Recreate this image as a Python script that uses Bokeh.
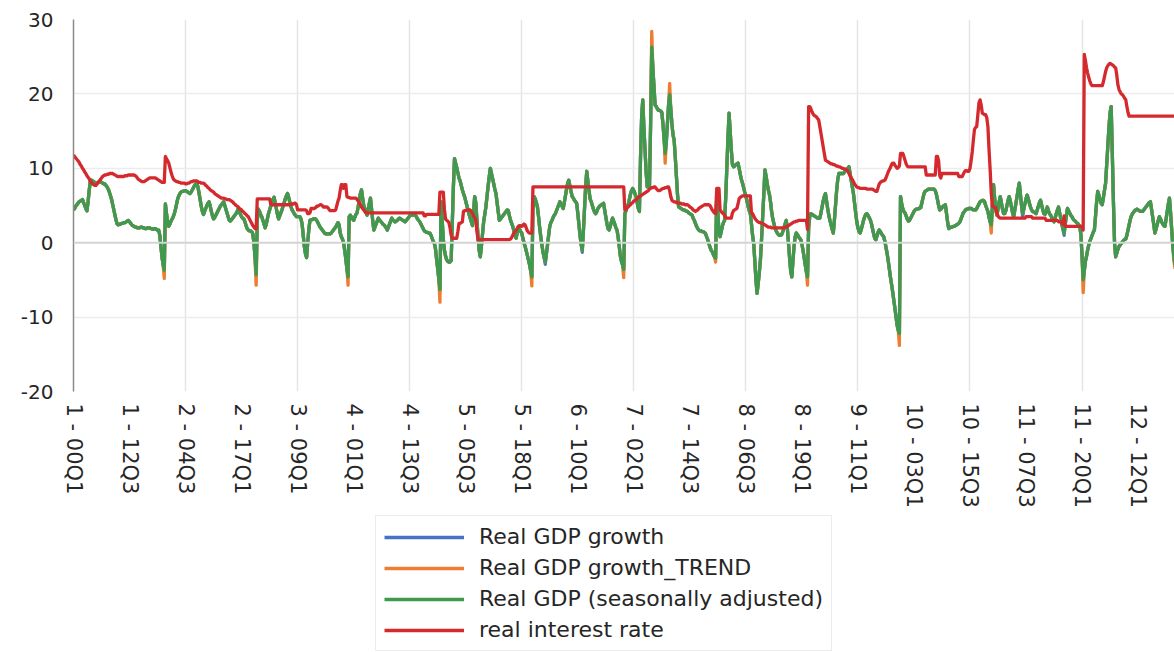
from bokeh.plotting import figure
from bokeh.layouts import column
from bokeh.models import (ColumnDataSource, FixedTicker, Range1d, Span, Legend,
                          LegendItem)
from bokeh.embed import file_html
from bokeh.resources import INLINE

# ---------------- categories (country - quarter) ----------------
countries = ["1", "2", "3", "4", "5", "6", "7", "8", "9", "10", "11", "12"]
years = ["00", "01", "02", "03", "04", "05", "06", "07", "08", "09", "10",
         "11", "12", "13", "14", "15", "16", "17", "18", "19", "20"]
quarters = [f"{y}Q{q}" for y in years for q in (1, 2, 3, 4)][:82]
categories = [f"{c} - {qq}" for c in countries for qq in quarters]

tick_labels = ["1 - 00Q1", "1 - 12Q3", "2 - 04Q3", "2 - 17Q1", "3 - 09Q1",
               "4 - 01Q1", "4 - 13Q3", "5 - 05Q3", "5 - 18Q1", "6 - 10Q1",
               "7 - 02Q1", "7 - 14Q3", "8 - 06Q3", "8 - 19Q1", "9 - 11Q1",
               "10 - 03Q1", "10 - 15Q3", "11 - 07Q3", "11 - 20Q1", "12 - 12Q1"]
y_ticks = [-20, -10, 0, 10, 20, 30]
y_tick_labels = ["-20", "-10", "0", "10", "20", "30"]

# ---------------- Real GDP (seasonally adjusted), per country ----------------
sa_1 = [4.4, 4.6, 4.9, 5.1, 5.3, 5.5, 5.6, 5.7, 5.8, 5.4,
        5.0, 4.6, 4.3, 5.5, 7.0, 8.3, 8.4, 8.3, 8.2, 8.1,
        8.0, 8.0, 8.1, 8.2, 8.2, 8.1, 8.0, 7.9, 7.9, 7.7,
        7.5, 7.2, 6.8, 6.3, 5.8, 5.1, 4.4, 3.7, 3.0, 2.5,
        2.4, 2.5, 2.5, 2.6, 2.6, 2.7, 2.7, 2.8, 2.9, 3.0,
        2.8, 2.6, 2.4, 2.3, 2.2, 2.1, 2.1, 2.0, 2.0, 2.0,
        2.1, 2.1, 2.0, 2.0, 1.9, 1.9, 2.0, 2.0, 2.0, 1.9,
        1.9, 1.8, 1.9, 1.9, 1.8, 1.7, 1.7, 1.0, -0.5, -2.0,
        -3.0, -3.7]
sa_2 = [5.2, 3.9, 2.8, 2.2, 2.5, 2.9, 3.2, 3.5, 3.9, 4.5,
        5.2, 5.9, 6.3, 6.6, 6.8, 6.9, 6.9, 7.0, 7.0, 6.9,
        6.8, 6.7, 6.6, 6.8, 7.1, 7.4, 7.7, 7.9, 8.1, 7.5,
        6.7, 5.8, 4.9, 4.2, 3.8, 4.2, 4.6, 5.0, 5.3, 5.5,
        4.9, 4.2, 3.6, 3.2, 3.4, 3.7, 4.0, 4.3, 4.6, 4.9,
        5.1, 5.3, 5.5, 5.0, 4.5, 4.0, 3.5, 3.0, 2.9, 3.1,
        3.3, 3.5, 3.7, 3.9, 4.2, 4.6, 4.2, 3.8, 3.5, 3.3,
        3.2, 2.8, 2.3, 1.9, 1.7, 1.6, 1.6, 1.5, 1.2, 0.0,
        -2.0, -4.3]
sa_3 = [3.0, 4.5, 4.2, 3.8, 3.5, 3.0, 2.5, 2.0, 2.5, 3.2,
        3.9, 4.4, 4.9, 5.4, 5.8, 6.1, 5.4, 4.6, 3.8, 3.2,
        3.6, 4.0, 4.4, 4.9, 5.4, 5.9, 6.3, 6.6, 6.1, 5.5,
        4.9, 4.4, 4.2, 3.9, 3.7, 3.5, 3.5, 3.5, 3.5, 3.2,
        2.5, 1.0, -0.5, -1.5, -2.0, 0.0, 1.8, 3.0, 3.1, 3.1,
        3.2, 3.2, 3.2, 3.0, 2.7, 2.4, 2.1, 1.9, 1.7, 1.5,
        1.3, 1.2, 1.2, 1.2, 1.2, 1.2, 1.3, 1.5, 1.7, 1.9,
        2.1, 2.4, 2.7, 2.4, 1.3, 0.8, 0.5, 0.0, -1.0, -2.2,
        -3.5, -4.6]
sa_4 = [3.5, 3.7, 3.5, 3.2, 3.0, 3.4, 3.8, 4.0, 4.8, 5.8,
        6.6, 7.1, 6.0, 5.0, 4.6, 4.1, 3.7, 4.5, 5.3, 6.0,
        4.5, 3.0, 1.7, 2.1, 2.5, 2.9, 3.3, 3.1, 2.9, 2.7,
        2.5, 2.4, 2.2, 2.0, 1.7, 2.1, 2.5, 2.9, 3.3, 3.1,
        2.9, 2.8, 2.9, 3.0, 3.2, 3.3, 3.2, 3.1, 3.0, 2.9,
        2.8, 3.0, 3.2, 3.4, 3.6, 3.7, 3.7, 3.7, 3.7, 3.7,
        3.5, 3.2, 3.0, 2.8, 2.5, 2.2, 1.9, 1.6, 1.5, 1.4,
        1.4, 1.3, 1.3, 1.0, 0.6, 0.2, -0.1, -0.8, -2.2, -3.5,
        -4.9, -6.3]
sa_5 = [5.5, 3.0, 0.5, -1.0, -1.8, -2.3, -2.5, -2.6, -2.6, -2.4,
        2.5, 7.5, 11.3, 10.7, 10.1, 9.4, 8.7, 8.3, 7.7, 7.1,
        6.6, 6.2, 5.6, 5.0, 4.4, 3.8, 3.3, 2.8, 2.3, 4.2,
        6.2, 5.4, 3.0, 0.8, -1.0, -1.9, -0.5, 1.2, 2.8, 3.8,
        4.8, 6.2, 7.6, 8.9, 10.0, 9.3, 8.6, 7.9, 7.2, 6.6,
        5.4, 4.2, 3.0, 3.2, 3.4, 3.6, 3.8, 4.0, 4.2, 4.4,
        4.3, 3.6, 3.0, 2.6, 2.2, 1.6, 1.0, 0.6, 1.4, 2.2,
        1.8, 1.5, 1.3, 0.6, 0.0, -0.5, -1.1, -1.7, -2.3, -3.0,
        -3.8, -4.6]
sa_6 = [4.5, 6.2, 5.9, 5.4, 4.8, 3.5, 2.0, 0.8, -0.3, -1.3,
        -2.0, -2.6, -1.5, -0.3, 1.0, 2.2, 2.7, 3.0, 3.4, 3.7,
        3.9, 4.3, 4.7, 5.1, 5.5, 5.2, 4.9, 4.6, 5.4, 6.3,
        7.2, 8.0, 8.4, 7.6, 6.9, 6.2, 6.0, 5.7, 5.5, 5.3,
        4.0, 2.5, 1.0, -0.2, -1.0, 1.5, 4.5, 7.5, 9.6, 8.3,
        7.0, 5.9, 5.5, 5.0, 4.5, 4.1, 3.9, 4.2, 4.6, 4.8,
        5.0, 5.1, 5.2, 5.3, 4.4, 3.5, 2.6, 1.9, 1.7, 2.2,
        2.8, 3.3, 2.9, 2.5, 2.0, 1.7, 0.8, -0.5, -1.8, -2.5,
        -3.0, -3.6]
sa_7 = [3.9, 4.3, 4.8, 5.1, 5.8, 6.5, 7.0, 7.3, 7.0, 6.6,
        6.2, 5.4, 4.6, 4.2, 11.5, 17.0, 19.2, 15.5, 12.5, 9.5,
        7.5, 7.5, 7.6, 16.0, 26.3, 23.5, 21.0, 18.5, 18.3, 18.0,
        17.8, 17.8, 17.7, 17.5, 16.0, 14.0, 12.0, 13.5, 16.0, 18.5,
        19.9, 18.0, 16.0, 14.5, 13.8, 11.5, 9.0, 6.5, 4.8, 4.7,
        4.6, 4.5, 4.4, 4.4, 4.3, 4.2, 4.2, 4.0, 3.9, 3.8,
        3.7, 3.3, 3.0, 2.6, 2.2, 1.9, 1.7, 1.6, 1.6, 1.5,
        1.5, 1.4, 1.2, 0.8, 0.4, -0.1, -0.6, -1.0, -1.2, -1.6,
        -1.9, -2.1]
sa_8 = [6.5, 4.0, 1.5, 0.8, 1.5, 2.2, 2.7, 3.0, 6.0, 10.0,
        14.0, 17.4, 15.0, 12.5, 10.5, 10.2, 10.3, 10.5, 10.6, 10.7,
        10.0, 9.2, 8.5, 8.0, 7.4, 6.8, 6.3, 5.6, 4.9, 4.3,
        3.9, 2.5, 1.0, -0.1, -2.5, -5.0, -6.8, -5.5, -4.0, -2.3,
        0.5, 3.5, 6.5, 9.8, 9.0, 8.0, 7.1, 6.5, 5.5, 4.2,
        3.2, 2.6, 2.0, 1.6, 1.3, 1.1, 1.0, 1.0, 1.1, 1.5,
        2.0, 2.5, 3.0, 2.0, 0.0, -2.0, -3.8, -4.6, -2.5, -0.5,
        0.8, 1.3, 1.1, 0.8, 0.6, 0.4, -0.2, -1.0, -2.0, -3.0,
        -3.9, -4.6]
sa_9 = [2.0, 3.5, 3.9, 3.8, 3.7, 3.6, 3.5, 3.4, 3.3, 3.3,
        3.3, 4.0, 4.8, 5.6, 6.2, 6.6, 5.6, 4.6, 3.7, 3.0,
        2.4, 1.8, 1.3, 3.0, 5.0, 7.0, 8.5, 9.3, 9.3, 9.3,
        9.3, 9.3, 9.5, 9.7, 9.9, 10.0, 10.2, 9.3, 8.4, 7.5,
        6.6, 5.3, 4.0, 2.8, 2.0, 1.5, 1.3, 1.8, 2.4, 3.0,
        3.5, 3.8, 3.9, 3.7, 3.4, 3.1, 2.6, 1.9, 1.2, 0.6,
        0.4, 0.9, 1.4, 1.7, 1.5, 1.2, 1.0, 0.8, 0.2, -0.6,
        -1.4, -2.4, -3.5, -4.6, -5.6, -6.6, -7.7, -8.8, -10.0, -11.1,
        -11.8, -12.2]
sa_10 = [6.2, 5.3, 4.6, 4.2, 4.0, 3.6, 3.2, 2.9, 3.0, 3.3,
         3.6, 3.9, 4.2, 4.4, 4.5, 4.5, 4.6, 4.6, 4.7, 5.3,
         6.0, 6.6, 6.9, 7.0, 7.1, 7.2, 7.2, 7.2, 7.2, 7.2,
         7.2, 7.0, 6.5, 5.8, 5.0, 4.4, 4.5, 4.7, 4.9, 5.0,
         5.1, 4.0, 2.8, 1.9, 2.0, 2.1, 2.1, 2.2, 2.2, 2.3,
         2.4, 2.5, 2.6, 2.8, 3.2, 3.6, 4.0, 4.2, 4.4, 4.5,
         4.5, 4.6, 4.6, 4.6, 4.5, 4.4, 4.4, 4.4, 4.6, 4.9,
         5.2, 5.5, 5.6, 5.7, 5.7, 5.5, 5.0, 4.6, 4.2, 3.4,
         2.8, 2.4]
sa_11 = [5.0, 7.8, 6.0, 4.5, 3.7, 4.5, 5.5, 6.2, 5.4, 4.5,
         3.9, 3.9, 4.3, 5.0, 5.7, 6.2, 5.6, 4.8, 4.0, 3.5,
         4.4, 5.3, 6.2, 7.2, 8.0, 6.5, 5.0, 3.9, 4.5, 5.2,
         5.9, 6.4, 5.9, 5.3, 4.8, 4.4, 4.2, 4.1, 4.0, 3.9,
         4.4, 4.9, 5.4, 5.7, 5.0, 4.4, 3.9, 3.8, 4.2, 4.8,
         4.3, 3.9, 3.7, 3.4, 3.1, 2.8, 3.3, 3.9, 4.4, 4.8,
         4.0, 3.3, 2.5, 1.8, 1.3, 2.5, 3.6, 4.6, 4.3, 4.0,
         3.7, 3.5, 3.2, 3.0, 2.9, 2.7, 2.6, 2.4, 2.2, 1.0,
         -1.8, -5.0]
sa_12 = [-3.8, -2.5, -1.8, -1.0, -0.3, 0.2, 0.6, 1.0, 1.4, 1.7,
         3.5, 5.5, 6.9, 6.4, 5.8, 5.3, 5.1, 6.0, 7.0, 8.0,
         10.5, 13.0, 15.5, 17.5, 18.3, 12.0, 5.5, 0.0, -1.9, -1.4,
         -0.9, -0.5, -0.3, -0.1, 0.1, 0.3, 0.4, 0.5, 1.0, 1.7,
         2.4, 3.1, 3.6, 3.9, 4.1, 4.3, 4.4, 4.5, 4.4, 4.3,
         4.2, 4.2, 4.2, 4.4, 4.6, 4.8, 5.0, 5.2, 5.4, 5.5,
         4.5, 3.5, 2.4, 1.3, 1.8, 2.4, 3.0, 3.5, 3.2, 2.8,
         2.5, 2.3, 2.2, 3.2, 4.2, 5.2, 6.0, 4.0, 1.8, -0.5,
         -2.0, -3.0]

# ---------------- real interest rate, per country ----------------
rate_1 = [11.8, 11.6, 11.4, 11.2, 11.0, 10.8, 10.5, 10.3, 10.0, 9.8,
          9.5, 9.3, 9.0, 8.8, 8.6, 8.3, 8.1, 7.9, 7.8, 7.7,
          7.7, 7.9, 8.1, 8.3, 8.5, 8.7, 8.9, 9.0, 9.1, 9.1,
          9.2, 9.2, 9.3, 9.3, 9.3, 9.3, 9.2, 9.1, 9.0, 8.9,
          8.9, 8.9, 8.9, 8.9, 8.9, 8.9, 9.0, 9.0, 9.0, 9.1,
          9.1, 9.1, 9.1, 9.1, 9.1, 9.0, 8.9, 8.7, 8.5, 8.4,
          8.3, 8.2, 8.2, 8.2, 8.3, 8.4, 8.5, 8.6, 8.7, 8.7,
          8.7, 8.7, 8.7, 8.7, 8.6, 8.5, 8.4, 8.3, 8.2, 8.1,
          8.1, 8.1]
rate_2 = [11.6, 11.3, 11.0, 10.7, 10.1, 9.5, 9.0, 8.6, 8.4, 8.3,
          8.2, 8.2, 8.1, 8.1, 8.0, 8.0, 8.0, 8.0, 7.9, 7.9,
          8.0, 8.0, 8.1, 8.2, 8.2, 8.3, 8.3, 8.3, 8.3, 8.2,
          8.1, 8.1, 8.0, 8.0, 8.0, 7.9, 7.7, 7.6, 7.4, 7.3,
          7.1, 7.0, 6.9, 6.8, 6.6, 6.5, 6.4, 6.3, 6.2, 6.1,
          6.0, 6.0, 6.0, 5.9, 5.9, 5.8, 5.8, 5.8, 5.7, 5.6,
          5.5, 5.3, 5.2, 5.0, 4.9, 4.8, 4.6, 4.5, 4.4, 4.2,
          4.1, 3.9, 3.8, 3.6, 3.5, 3.2, 2.9, 2.6, 2.3, 2.1,
          1.9, 1.9]
rate_3 = [5.9, 5.9, 5.9, 5.9, 5.9, 5.9, 5.9, 5.9, 5.9, 5.9,
          5.9, 5.9, 5.2, 5.1, 5.1, 5.1, 5.1, 5.1, 5.1, 5.1,
          5.1, 5.1, 5.1, 5.1, 5.1, 5.1, 5.1, 5.1, 5.1, 5.1,
          5.2, 5.2, 5.2, 5.3, 5.3, 5.1, 4.4, 4.4, 4.4, 4.4,
          4.4, 4.4, 4.4, 4.4, 4.3, 3.9, 3.9, 4.0, 4.6, 4.6,
          4.6, 4.6, 4.7, 4.9, 4.9, 5.0, 5.1, 5.1, 5.0, 4.8,
          4.8, 4.8, 4.8, 4.7, 4.5, 4.3, 4.3, 4.3, 4.3, 4.3,
          4.4, 5.0, 5.6, 6.0, 7.0, 7.8, 7.8, 7.3, 7.8, 7.8,
          6.2, 6.1]
rate_4 = [6.1, 6.0, 6.0, 6.0, 6.0, 6.0, 6.0, 5.8, 5.6, 5.4,
          5.1, 4.8, 4.6, 4.4, 4.2, 4.0, 4.0, 4.0, 4.0, 4.0,
          4.0, 4.0, 4.0, 4.0, 4.0, 4.0, 4.0, 4.0, 4.0, 4.0,
          4.0, 4.0, 4.0, 4.0, 4.0, 4.0, 4.0, 4.0, 4.0, 4.0,
          4.0, 4.0, 4.0, 4.0, 4.0, 4.0, 4.0, 4.0, 4.0, 4.0,
          4.0, 4.0, 4.0, 4.0, 4.0, 4.0, 4.0, 4.0, 4.0, 4.0,
          4.0, 4.0, 4.0, 4.0, 4.0, 4.0, 4.0, 3.6, 3.6, 3.8,
          3.8, 3.8, 3.8, 3.8, 3.8, 3.8, 3.8, 3.8, 3.8, 3.8,
          3.8, 6.8]
rate_5 = [6.8, 6.8, 6.8, 4.5, 3.2, 3.0, 2.9, 2.7, 2.0, 1.0,
          0.6, 0.6, 0.6, 0.6, 0.6, 1.5, 2.6, 2.6, 2.7, 2.8,
          4.2, 4.3, 4.3, 4.4, 4.4, 4.4, 4.4, 4.2, 3.9, 3.6,
          3.4, 3.0, 1.5, 0.4, 0.4, 0.4, 0.4, 0.4, 0.4, 0.4,
          0.4, 0.4, 0.4, 0.4, 0.4, 0.4, 0.4, 0.4, 0.4, 0.4,
          0.4, 0.4, 0.4, 0.4, 0.4, 0.4, 0.4, 0.4, 0.4, 0.4,
          0.4, 0.4, 0.5, 0.7, 1.0, 1.3, 1.5, 1.7, 1.9, 2.1,
          2.3, 2.3, 2.2, 2.3, 2.5, 2.4, 2.0, 1.6, 1.4, 1.3,
          1.3, 1.3]
rate_6 = [7.5, 7.5, 7.5, 7.5, 7.5, 7.5, 7.5, 7.5, 7.5, 7.5,
          7.5, 7.5, 7.5, 7.5, 7.5, 7.5, 7.5, 7.5, 7.5, 7.5,
          7.5, 7.5, 7.5, 7.5, 7.5, 7.5, 7.5, 7.5, 7.5, 7.5,
          7.5, 7.5, 7.5, 7.5, 7.5, 7.5, 7.5, 7.5, 7.5, 7.5,
          7.5, 7.5, 7.5, 7.5, 7.5, 7.5, 7.5, 7.5, 7.5, 7.5,
          7.5, 7.5, 7.5, 7.5, 7.5, 7.5, 7.5, 7.5, 7.5, 7.5,
          7.5, 7.5, 7.5, 7.5, 7.5, 7.5, 7.5, 7.5, 7.5, 7.5,
          7.5, 7.5, 7.5, 7.5, 7.5, 7.5, 7.5, 7.5, 7.5, 7.5,
          7.5, 7.5]
rate_7 = [4.4, 4.5, 4.7, 4.8, 5.0, 5.1, 5.3, 5.4, 5.6, 5.7,
          5.8, 5.9, 6.1, 6.2, 6.3, 6.4, 6.5, 6.6, 6.7, 6.8,
          6.9, 7.0, 7.2, 7.3, 7.4, 7.4, 7.5, 7.5, 7.3, 7.1,
          7.0, 7.0, 7.1, 7.2, 7.3, 7.3, 7.4, 7.4, 7.5, 7.5,
          7.0, 6.2, 5.7, 5.6, 5.5, 5.5, 5.4, 5.4, 5.3, 5.3,
          5.3, 5.2, 5.2, 5.2, 5.1, 5.1, 5.1, 5.0, 4.8, 4.7,
          4.6, 4.4, 4.3, 4.2, 4.3, 4.4, 4.6, 4.7, 4.8, 4.9,
          5.0, 5.1, 5.1, 5.1, 5.1, 5.1, 5.0, 4.7, 4.4, 4.2,
          4.0, 3.9]
rate_8 = [7.3, 7.3, 7.3, 4.4, 4.2, 4.0, 3.9, 3.7, 3.4, 3.3,
          3.3, 3.3, 3.3, 3.3, 4.0, 4.3, 4.4, 4.5, 4.6, 5.2,
          5.9, 6.1, 6.2, 6.3, 6.3, 6.3, 6.3, 6.3, 6.3, 6.3,
          6.3, 4.0, 3.9, 3.6, 3.3, 3.1, 2.9, 2.8, 2.7, 2.7,
          2.6, 2.6, 2.5, 2.4, 2.3, 2.2, 2.1, 2.1, 2.1, 2.0,
          2.0, 2.0, 2.0, 2.0, 2.0, 2.0, 2.0, 2.0, 2.0, 2.0,
          2.0, 2.1, 2.1, 2.2, 2.3, 2.4, 2.5, 2.6, 2.7, 2.8,
          2.8, 2.9, 2.9, 3.0, 3.0, 3.0, 3.0, 3.0, 3.0, 3.0,
          3.0, 1.8]
rate_9 = [18.3, 18.3, 18.0, 17.6, 17.3, 17.1, 17.0, 16.9, 16.7, 16.5,
          15.6, 14.7, 13.8, 12.9, 12.0, 11.1, 11.0, 10.9, 10.8, 10.7,
          10.6, 10.6, 10.5, 10.5, 10.4, 10.3, 10.3, 10.2, 10.2, 10.1,
          10.0, 10.0, 9.9, 9.9, 9.8, 9.6, 9.3, 9.0, 8.7, 8.5,
          8.2, 7.9, 7.7, 7.5, 7.4, 7.4, 7.3, 7.3, 7.3, 7.3,
          7.3, 7.3, 7.2, 7.2, 7.2, 7.2, 7.2, 7.2, 7.1, 7.0,
          6.9, 6.9, 7.4, 7.9, 8.1, 8.2, 8.3, 8.3, 8.4, 8.7,
          9.1, 9.5, 9.8, 10.1, 10.5, 10.7, 10.7, 10.4, 10.2, 10.0,
          10.1, 10.3]
rate_10 = [12.0, 12.0, 12.0, 11.6, 11.1, 10.6, 10.3, 10.2, 10.2, 10.2,
           10.2, 10.2, 10.2, 10.2, 10.2, 10.2, 10.2, 10.2, 10.2, 10.2,
           10.2, 10.2, 10.2, 9.1, 9.1, 9.1, 9.1, 9.1, 9.1, 9.1,
           9.1, 9.1, 11.6, 11.6, 11.0, 9.0, 8.7, 9.3, 9.3, 9.3,
           9.3, 9.3, 9.3, 9.3, 9.3, 9.3, 9.3, 9.3, 9.3, 9.3,
           9.3, 9.3, 8.9, 8.9, 8.9, 8.9, 9.2, 9.5, 9.7, 9.7,
           9.6, 9.6, 10.0, 11.0, 12.2, 13.8, 15.2, 15.5, 15.6, 17.2,
           18.8, 19.2, 18.5, 17.4, 17.3, 17.2, 17.2, 16.8, 15.6, 12.5,
           9.8, 6.6]
rate_11 = [4.9, 4.8, 4.7, 4.7, 4.0, 3.6, 3.4, 3.3, 3.3, 3.3,
           3.3, 3.3, 3.3, 3.3, 3.3, 3.3, 3.3, 3.3, 3.3, 3.3,
           3.3, 3.3, 3.3, 3.3, 3.3, 3.3, 3.3, 3.3, 3.3, 3.3,
           3.5, 3.5, 3.5, 3.5, 3.5, 3.5, 3.3, 3.3, 3.3, 3.3,
           3.3, 3.3, 3.3, 3.3, 3.3, 3.3, 3.3, 3.3, 3.0, 3.0,
           3.0, 3.0, 3.0, 3.0, 3.0, 3.0, 3.0, 3.0, 3.0, 2.8,
           2.8, 2.8, 2.6, 2.5, 3.6, 2.2, 2.2, 2.2, 2.2, 2.2,
           2.2, 2.2, 2.2, 2.2, 2.2, 2.2, 2.2, 2.2, 2.2, 2.2,
           2.2, 1.7]
rate_12 = [25.3, 24.5, 23.5, 22.8, 22.2, 21.7, 21.3, 21.1, 21.1, 21.1,
           21.1, 21.1, 21.1, 21.1, 21.1, 21.1, 21.1, 21.6, 22.3, 23.0,
           23.5, 23.8, 24.0, 24.1, 24.0, 23.9, 23.8, 23.6, 23.5, 22.5,
           21.2, 20.6, 20.3, 20.0, 19.9, 19.7, 19.4, 19.2, 18.3, 17.5,
           17.0, 17.0, 17.0, 17.0, 17.0, 17.0, 17.0, 17.0, 17.0, 17.0,
           17.0, 17.0, 17.0, 17.0, 17.0, 17.0, 17.0, 17.0, 17.0, 17.0,
           17.0, 17.0, 17.0, 17.0, 17.0, 17.0, 17.0, 17.0, 17.0, 17.0,
           17.0, 17.0, 17.0, 17.0, 17.0, 17.0, 17.0, 17.0, 17.0, 17.0,
           17.0, 17.0]

# Points where the TREND series and the Real GDP growth series visibly
# differ from the seasonally adjusted one (elsewhere they coincide).
trend_differs = {"1 - 20Q2": -4.8, "2 - 20Q2": -5.7, "3 - 20Q2": -5.7,
                 "4 - 20Q2": -8.0, "5 - 20Q2": -5.8, "6 - 20Q2": -4.7,
                 "7 - 06Q1": 28.4, "7 - 09Q1": 10.7, "7 - 10Q1": 21.4,
                 "7 - 20Q2": -2.6, "8 - 20Q2": -5.7, "9 - 20Q2": -13.8,
                 "10 - 20Q2": 1.3, "11 - 20Q2": -6.7, "12 - 20Q1": -2.5,
                 "12 - 20Q2": -3.5}
growth_differs = {"6 - 02Q4": -2.9, "6 - 11Q1": -1.3, "11 - 06Q4": 3.5,
                  "11 - 16Q1": 1.0}

sa_lists = [sa_1, sa_2, sa_3, sa_4, sa_5, sa_6, sa_7, sa_8, sa_9, sa_10,
            sa_11, sa_12]
rate_lists = [rate_1, rate_2, rate_3, rate_4, rate_5, rate_6, rate_7, rate_8,
              rate_9, rate_10, rate_11, rate_12]
for i, (a, b) in enumerate(zip(sa_lists, rate_lists), 1):
    assert len(a) == 82, f"sa_{i} has {len(a)}"
    assert len(b) == 82, f"rate_{i} has {len(b)}"
assert categories[::50] == tick_labels, categories[::50]

gdp_sa = [v for lst in sa_lists for v in lst]
real_rate = [v for lst in rate_lists for v in lst]
gdp_trend = list(gdp_sa)
for k, v in trend_differs.items():
    gdp_trend[categories.index(k)] = v
gdp_growth = list(gdp_sa)
for k, v in growth_differs.items():
    gdp_growth[categories.index(k)] = v

xpos = list(range(len(categories)))
src = ColumnDataSource(dict(x=xpos, cat=categories, growth=gdp_growth,
                            trend=gdp_trend, sa=gdp_sa, rate=real_rate))

# ---------------- main chart ----------------
FONT = "DejaVu Sans"
TXT = "#262626"
LW = 3.3
COLORS = {"growth": "#4472c4", "trend": "#ed7d31", "sa": "#3d9a4e",
          "rate": "#d42a2e"}
NAMES = {"growth": "Real GDP growth", "trend": "Real GDP growth_TREND",
         "sa": "Real GDP (seasonally adjusted)", "rate": "real interest rate"}
ORDER = ["growth", "trend", "sa", "rate"]

p = figure(width=1174, height=510, output_backend="svg", toolbar_location=None,
           x_range=Range1d(0, 982.5), y_range=Range1d(-20, 30),
           min_border_left=73, min_border_right=0, min_border_top=19,
           min_border_bottom=119)
p.outline_line_color = None
p.background_fill_color = "white"

tick_pos = [categories.index(t) for t in tick_labels]
p.xaxis.ticker = FixedTicker(ticks=tick_pos)
p.xaxis.major_label_overrides = {pos: lab for pos, lab in zip(tick_pos, tick_labels)}
p.xaxis.major_label_orientation = "vertical"
p.xaxis.axis_line_color = None
p.xaxis.major_tick_line_color = None
p.xaxis.minor_tick_line_color = None
p.xaxis.major_label_standoff = 6
p.xaxis.major_label_text_font = FONT
p.xaxis.major_label_text_font_size = "21px"
p.xaxis.major_label_text_color = TXT

p.yaxis.ticker = FixedTicker(ticks=y_ticks)
p.yaxis.major_label_overrides = {t: s for t, s in zip(y_ticks, y_tick_labels)}
p.yaxis.axis_line_color = "#8a8a8a"
p.yaxis.axis_line_width = 1.5
p.yaxis.major_tick_line_color = None
p.yaxis.minor_tick_line_color = None
p.yaxis.major_label_standoff = 14
p.yaxis.major_label_text_font = FONT
p.yaxis.major_label_text_font_size = "20px"
p.yaxis.major_label_text_color = TXT

p.xgrid.ticker = FixedTicker(ticks=tick_pos[2::2])
p.xgrid.grid_line_color = "#e4e4e4"
p.xgrid.grid_line_width = 1.5
p.ygrid.ticker = FixedTicker(ticks=[-10, 10, 20])
p.ygrid.grid_line_color = "#ececec"
p.ygrid.grid_line_width = 1.5
p.add_layout(Span(location=0, dimension="width", line_color="#d4d4d4",
                  line_width=2))

for key in ORDER:
    p.line("x", key, source=src, color=COLORS[key], line_width=LW,
           line_join="round")

# ---------------- legend panel (below the chart) ----------------
# Same series drawn again with ranges that show none of them, so the
# legend below only carries their swatches.
q = figure(width=1174, height=142, output_backend="svg", toolbar_location=None,
           x_range=Range1d(-2000, -1000), y_range=Range1d(-2000, -1000),
           min_border_left=0, min_border_right=0, min_border_top=0,
           min_border_bottom=0, x_axis_type=None, y_axis_type=None)
q.outline_line_color = None
q.grid.visible = False
items = []
for key in ORDER:
    r = q.line("x", key, source=src, color=COLORS[key], line_width=LW)
    items.append(LegendItem(label=NAMES[key], renderers=[r]))
legend = Legend(items=items, location=(302, 1), orientation="vertical")
legend.label_text_font = FONT
legend.label_text_font_size = "22px"
legend.label_text_color = TXT
legend.glyph_width = 80
legend.glyph_height = 22
legend.label_standoff = 15
legend.padding = 8
legend.spacing = 6
legend.margin = 0
legend.border_line_color = "#d9d9d9"
legend.border_line_width = 1
legend.background_fill_color = "white"
legend.background_fill_alpha = 1.0
q.add_layout(legend, "center")

page = column(p, q, spacing=0)
open("out.html", "w").write(file_html(page, INLINE))
